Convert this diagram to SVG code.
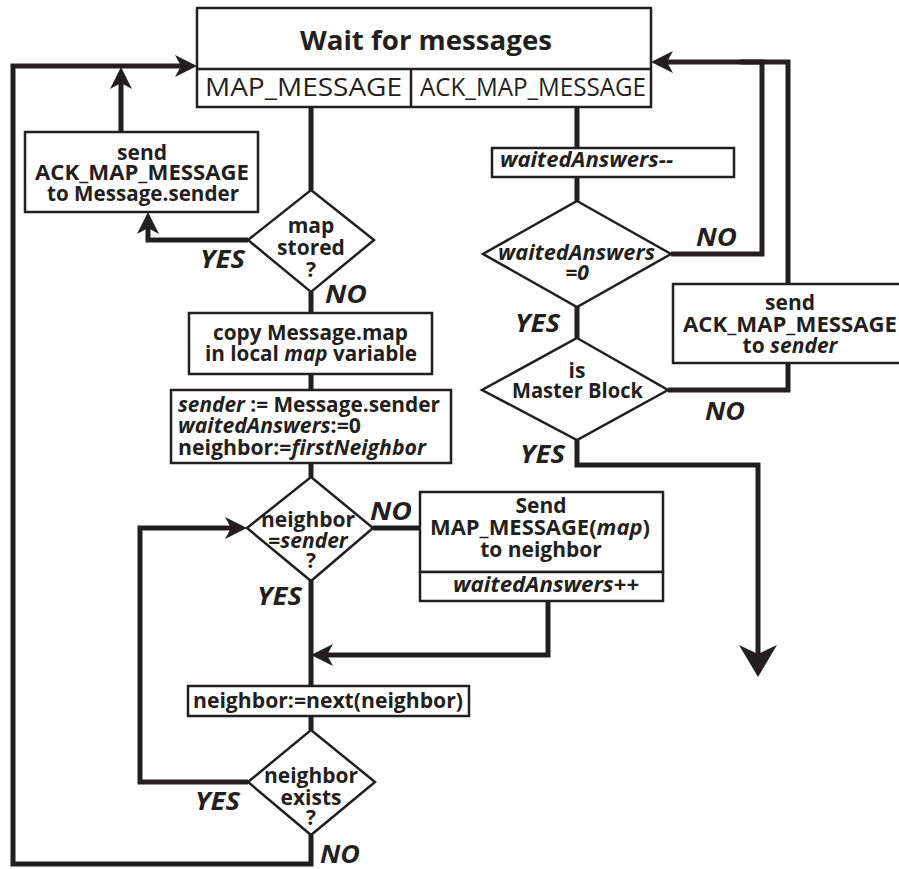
<svg xmlns="http://www.w3.org/2000/svg" width="899" height="869" viewBox="0 0 899 869">
<style>
.box{fill:#fff;stroke:#231f20;stroke-width:2.5}
.c{fill:none;stroke:#231f20;stroke-width:5}
text{font-family:"Open Sans","Noto Sans","Liberation Sans",sans-serif;fill:#231f20}
.b{font-weight:bold;font-size:21px}
.m{text-anchor:middle}
.r{font-weight:normal;font-size:26px}
.i{font-style:italic}
.lbl{font-weight:bold;font-style:italic;font-size:25px}
.ti{font-weight:bold;font-size:27px}
</style>
<defs>
<marker id="ah" markerUnits="userSpaceOnUse" markerWidth="24" markerHeight="24" refX="12" refY="11" orient="auto" viewBox="0 0 24 24">
<path d="M0,0 L22,11 L0,22 L6,11 z" fill="#231f20"/>
</marker>
<marker id="ahb" markerUnits="userSpaceOnUse" markerWidth="40" markerHeight="40" refX="18" refY="19" orient="auto" viewBox="0 0 40 40">
<path d="M0,0 L32,19 L0,38 L9,19 z" fill="#231f20"/>
</marker>
</defs>

<g id="connectors">
<path class="c" d="M311,835 V864 H13 V66 H187" marker-end="url(#ah)"/>
<path class="c" d="M121,132 V77" marker-end="url(#ah)"/>
<path class="c" d="M248,240 H148 V222" marker-end="url(#ah)"/>
<path class="c" d="M248,782 H140 V528 H237" marker-end="url(#ah)"/>
<path class="c" d="M548,601 V655 H321" marker-end="url(#ah)"/>
<path class="c" d="M671,254 H762 V62 H661" marker-end="url(#ah)"/>
<path class="c" d="M788,284 V62 H740"/>
<path class="c" d="M668,390 H788 V363"/>
<path class="c" d="M577,440 V465 H758 V663" marker-end="url(#ahb)"/>
<path class="c" d="M311,107 V190 M311,292 V313 M311,374 V390 M311,463 V477 M373,528 H420 M311,581 V686 M311,716 V730 M577,107 V148 M577,177 V201 M577,307 V338"/>
</g>

<g id="wait">
<rect class="box" x="197" y="8" width="454" height="99"/>
<line class="box" x1="197" y1="69" x2="651" y2="69"/>
<line class="box" x1="411" y1="69" x2="411" y2="107"/>
<text class="ti" x="300" y="50" textLength="252" lengthAdjust="spacingAndGlyphs">Wait for messages</text>
<text class="r" x="205" y="96" textLength="197" lengthAdjust="spacingAndGlyphs">MAP_MESSAGE</text>
<text class="r" x="420" y="96" textLength="226" lengthAdjust="spacingAndGlyphs">ACK_MAP_MESSAGE</text>
</g>

<g id="sendAck1">
<rect class="box" x="25" y="132" width="233" height="80"/>
<text class="b m" x="142" y="160">send</text>
<text class="b" x="35" y="180" textLength="214" lengthAdjust="spacingAndGlyphs">ACK_MAP_MESSAGE</text>
<text class="b" x="47" y="201" textLength="192" lengthAdjust="spacingAndGlyphs">to Message.sender</text>
</g>

<g id="mapStored">
<polygon class="box" points="311,190 374,240 311,292 248,240"/>
<text class="b m" x="311" y="233">map</text>
<text class="b m" x="311" y="255">stored</text>
<text class="b m" x="311" y="277">?</text>
</g>

<g id="copyMap">
<rect class="box" x="189" y="313" width="243" height="61"/>
<text class="b" x="213" y="340" textLength="195" lengthAdjust="spacingAndGlyphs">copy Message.map</text>
<text class="b" x="205" y="361" textLength="212" lengthAdjust="spacingAndGlyphs">in local <tspan class="i">map</tspan> variable</text>
</g>

<g id="init">
<rect class="box" x="171" y="390" width="280" height="73"/>
<text class="b" x="178" y="412" textLength="262" lengthAdjust="spacingAndGlyphs"><tspan class="i">sender</tspan> := Message.sender</text>
<text class="b" x="178" y="433" textLength="183" lengthAdjust="spacingAndGlyphs"><tspan class="i">waitedAnswers</tspan>:=0</text>
<text class="b" x="178" y="455" textLength="248" lengthAdjust="spacingAndGlyphs">neighbor:=<tspan class="i">firstNeighbor</tspan></text>
</g>

<g id="isSender">
<polygon class="box" points="311,477 373,528 311,581 247,528"/>
<text class="b m" x="308" y="527">neighbor</text>
<text class="b m" x="308" y="548">=<tspan class="i">sender</tspan></text>
<text class="b m" x="311" y="568">?</text>
</g>

<g id="sendMap">
<rect class="box" x="420" y="492" width="243" height="80"/>
<rect class="box" x="420" y="572" width="243" height="29"/>
<text class="b m" x="541" y="513">Send</text>
<text class="b" x="430" y="535" textLength="220" lengthAdjust="spacingAndGlyphs">MAP_MESSAGE(<tspan class="i">map</tspan>)</text>
<text class="b m" x="541" y="557">to neighbor</text>
<text class="b i" x="453" y="592" textLength="186" lengthAdjust="spacingAndGlyphs">waitedAnswers++</text>
</g>

<g id="nextNeighbor">
<rect class="box" x="188" y="686" width="281" height="30"/>
<text class="b" x="193" y="708" textLength="270" lengthAdjust="spacingAndGlyphs">neighbor:=next(neighbor)</text>
</g>

<g id="exists">
<polygon class="box" points="311,730 375,782 311,835 248,782"/>
<text class="b m" x="311" y="783">neighbor</text>
<text class="b m" x="311" y="805">exists</text>
<text class="b m" x="311" y="825">?</text>
</g>

<g id="decrement">
<rect class="box" x="492" y="148" width="242" height="29"/>
<text class="b i" x="500" y="167" textLength="173" lengthAdjust="spacingAndGlyphs">waitedAnswers--</text>
</g>

<g id="zeroCheck">
<polygon class="box" points="577,201 671,254 577,307 483,254"/>
<text class="b i" x="498" y="260" textLength="157" lengthAdjust="spacingAndGlyphs">waitedAnswers</text>
<text class="b i m" x="577" y="280">=0</text>
</g>

<g id="sendAck2">
<rect class="box" x="673" y="284" width="240" height="79"/>
<text class="b m" x="790" y="310">send</text>
<text class="b" x="683" y="332" textLength="214" lengthAdjust="spacingAndGlyphs">ACK_MAP_MESSAGE</text>
<text class="b m" x="790" y="353">to <tspan class="i">sender</tspan></text>
</g>

<g id="master">
<polygon class="box" points="577,338 668,390 577,440 482,390"/>
<text class="b m" x="577" y="378">is</text>
<text class="b" x="512" y="398" textLength="131" lengthAdjust="spacingAndGlyphs">Master Block</text>
</g>

<g id="labels">
<text class="lbl" x="200" y="268" textLength="45" lengthAdjust="spacingAndGlyphs">YES</text>
<text class="lbl" x="325" y="303" textLength="42" lengthAdjust="spacingAndGlyphs">NO</text>
<text class="lbl" x="370" y="520" textLength="42" lengthAdjust="spacingAndGlyphs">NO</text>
<text class="lbl" x="257" y="605" textLength="45" lengthAdjust="spacingAndGlyphs">YES</text>
<text class="lbl" x="195" y="810" textLength="45" lengthAdjust="spacingAndGlyphs">YES</text>
<text class="lbl" x="320" y="863" textLength="40" lengthAdjust="spacingAndGlyphs">NO</text>
<text class="lbl" x="696" y="246" textLength="41" lengthAdjust="spacingAndGlyphs">NO</text>
<text class="lbl" x="515" y="332" textLength="45" lengthAdjust="spacingAndGlyphs">YES</text>
<text class="lbl" x="705" y="420" textLength="40" lengthAdjust="spacingAndGlyphs">NO</text>
<text class="lbl" x="520" y="463" textLength="45" lengthAdjust="spacingAndGlyphs">YES</text>
</g>
</svg>
